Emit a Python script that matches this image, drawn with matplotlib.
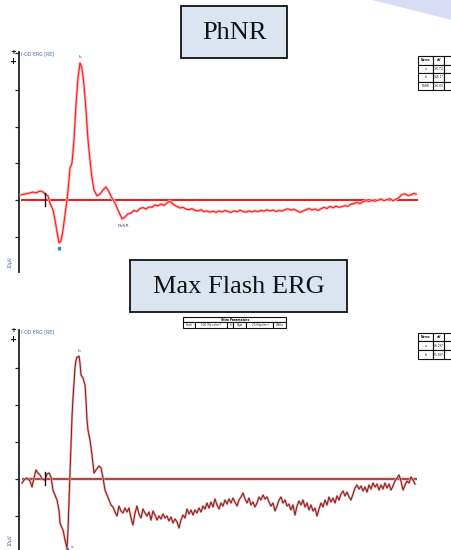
import matplotlib
matplotlib.use("Agg")
import matplotlib.pyplot as plt
from matplotlib.patches import Rectangle, Polygon

# ---------------- data ----------------
# PhNR trace: time (ms) and amplitude (uV)
phnr_t = [-23, -19, -14, -11, -8, -4, -1, 1, 4, 6, 9, 11, 13, 15, 17, 19, 21, 23, 25, 26, 28, 30, 32, 34,
          36, 38, 40, 42, 44, 46, 48, 50, 53, 56, 59, 62, 65, 68, 71, 74, 78, 81, 84, 87, 90, 93, 96,
          99, 102, 105, 108, 111, 114, 117, 120, 123, 126, 129, 132, 136, 139, 142, 145, 148, 151, 154,
          157, 160, 163, 166, 169, 172, 175, 178, 181, 184, 187, 190, 193, 196, 199, 202, 205, 208, 211,
          214, 217, 220, 223, 226, 229, 232, 235, 238, 241, 244, 247, 250, 253, 256, 259, 262, 265, 268,
          271, 274, 277, 280, 283, 286, 289, 292, 295, 298, 301, 304, 307, 310, 313, 316, 319, 322, 325,
          328, 331, 334, 337, 340, 343, 346, 349, 352, 355, 358, 361, 364, 367, 370, 372]
phnr_v = [4.1, 4.9, 5.7, 6.5, 5.7, 7.4, 6.5, 4.9, 3.3, -2.5, -8.2, -16.3, -26.1, -35.1, -33.5, -24.5,
          -12.3, 0.0, 16.3, 26.1, 30.2, 49.0, 77.6, 99.7, 112.0, 108.0, 94.0, 73.5, 49.0, 32.7, 18.0, 8.2,
          3.3, 4.9, 8.2, 10.6, 6.5, 1.6, -2.5, -8.2, -15.5, -13.9, -11.5, -10.6, -8.6, -9.4, -7.0,
          -6.2, -7.4, -5.7, -6.0, -4.1, -4.9, -3.3, -4.5, -2.5, -0.8, -3.3, -5.0, -6.5, -6.0, -7.5,
          -8.0, -7.0, -8.5, -9.0, -8.0, -9.5, -9.0, -10.0, -9.2, -10.1, -9.0, -9.8, -8.6, -9.5, -10.2,
          -9.0, -9.6, -8.4, -9.4, -10.0, -9.0, -9.8, -8.8, -9.6, -8.5, -9.2, -8.0, -9.0, -8.2, -9.4,
          -8.6, -9.0, -8.0, -7.2, -8.4, -7.6, -8.8, -10.2, -9.0, -8.0, -7.0, -8.2, -7.4, -8.6, -7.2,
          -6.0, -7.0, -5.2, -6.4, -5.0, -6.0, -5.4, -4.6, -5.2, -3.4, -3.0, -2.0, -3.0, -1.4, -0.6,
          -1.2, -0.4, -1.0, -0.2, 0.8, -0.6, 0.4, 1.0, -0.6, 0.6, 2.0, 4.5, 5.0, 3.6, 4.2, 5.4, 4.8]

# Max flash trace
maxf_t = [-22, -20, -17, -14, -12, -10, -8, -6, -4, -2, 1, 3, 5, 7, 9, 11, 13, 15, 16, 18, 19, 21, 23,
          24, 25, 26, 27, 28, 29, 30, 31, 32, 33, 34, 35, 36, 37, 39, 41, 42, 43, 44, 46, 48, 50, 52,
          55, 57, 59, 61, 63, 65, 67, 69, 71, 73, 75, 77, 79, 81, 83, 85, 87, 89, 91, 93, 95, 97, 99,
          101, 103, 105, 107, 109, 111, 113, 115, 117, 119, 121, 123, 125, 127, 129, 131, 133, 135,
          137, 139, 141, 143, 145, 147, 149, 151, 153, 155, 157, 159, 161, 163, 165, 167, 169, 171,
          173, 175, 177, 179, 181, 183, 185, 187, 189, 191, 193, 195, 197, 199, 201, 203, 205, 207,
          209, 211, 213, 215, 217, 219, 221, 223, 225, 227, 229, 231, 233, 235, 237, 239, 241, 243,
          245, 247, 249, 251, 253, 255, 257, 259, 261, 263, 265, 267, 269, 271, 273, 275, 277, 279,
          281, 283, 285, 287, 289, 291, 293, 295, 297, 299, 301, 303, 305, 307, 309, 311, 313, 315,
          317, 319, 321, 323, 325, 327, 329, 331, 333, 335, 337, 339, 341, 343, 345, 347, 349, 351,
          353, 355, 357, 359, 361, 363, 365, 367, 369, 371]
maxf_v = [-5.4, -1.4, 1.4, -2.7, -10.8, 1.4, 12.2, 8.1, 5.4, 0.0, -1.4, 6.8, 8.1, 2.7, -14.9, -21.6,
          -28.4, -41.9, -59.4, -66.2, -68.9, -82.4, -93.2, -68.9, -28.4, 8.1, 45.9, 83.8, 109.4, 129.7,
          150.0, 160.8, 164.8, 164.8, 166.0, 156.7, 140.5, 136.4, 127.0, 106.7, 79.7, 66.2, 52.7, 32.4,
          8.1, 12.2, 17.6, 14.9, 1.4, -14.9, -21.6, -28.4, -35.1, -37.8, -44.6, -50.0, -36.5, -43.2,
          -45.9, -39.2, -44.6, -39.2, -52.7, -62.1, -45.9, -36.5, -47.3, -52.7, -40.5, -45.9, -50.0,
          -44.6, -55.4, -43.2, -48.6, -55.4, -50.0, -54.0, -47.3, -52.7, -50.0, -56.7, -51.3, -59.4,
          -54.0, -58.0, -66.2, -55.4, -48.6, -52.7, -40.5, -47.3, -41.9, -48.6, -41.9, -45.9, -39.2,
          -44.6, -36.5, -40.5, -32.4, -39.2, -31.1, -37.8, -27.0, -35.1, -40.5, -32.4, -36.5, -28.4,
          -33.8, -27.0, -32.4, -25.7, -31.1, -36.5, -28.4, -24.3, -18.9, -27.0, -32.4, -25.7, -35.1,
          -31.1, -37.8, -32.4, -24.3, -28.4, -21.6, -27.0, -24.3, -31.1, -36.5, -32.4, -43.2, -36.5,
          -28.4, -24.3, -32.4, -28.4, -36.5, -33.8, -41.9, -35.1, -48.6, -36.5, -29.7, -35.1, -28.4,
          -37.8, -32.4, -41.9, -35.1, -43.2, -39.2, -50.0, -40.5, -32.4, -37.8, -28.4, -35.1, -24.3,
          -31.1, -25.7, -32.4, -22.9, -28.4, -20.3, -16.2, -22.9, -17.6, -24.3, -28.4, -20.3, -12.2,
          -8.1, -13.5, -9.5, -16.2, -10.8, -17.6, -8.1, -13.5, -5.4, -10.8, -6.8, -14.9, -8.1, -13.5,
          -5.4, -12.2, -6.8, -14.9, -9.5, -2.7, 1.4, 5.4, -2.7, -14.9, -8.1, -2.7, -5.4, 2.7, -1.4,
          -6.8]

phnr_markers = {"a": (15, -35.1), "b": (36, 112.0), "PhNR": (78, -15.5)}
maxf_markers = {"a": (23, -93.2), "b": (35, 166.0)}

phnr_table = [["Name", "uV", ""], ["a", "-36.73", ""], ["b", "146.1*", ""], ["PhNR", "-16.03", ""]]
maxf_table = [["Name", "uV", ""], ["a", "-16.26*", ""], ["b", "51.80*", ""]]
stim_header = "Stim Parameters"
stim_row = ["Flash", "100 (Pp.cs/m\u00b2)", "6", "Hgst", "20 (Hpu/m\u00b2)", "White"]

# ---------------- figure ----------------
W, H = 452, 550
fig = plt.figure(figsize=(W / 100, H / 100), dpi=100)
fig.patch.set_facecolor("white")

# overlay axes in pixel coordinates for decoration
deco = fig.add_axes([0, 0, 1, 1], zorder=0)
deco.set_xlim(0, W)
deco.set_ylim(H, 0)
deco.axis("off")
deco.add_patch(Polygon([(372, 0), (452, 0), (452, 20)], closed=True,
                       facecolor="#d8ddf5", edgecolor="none"))


def px_axes(left, top, right, bottom, z=1):
    return fig.add_axes([left / W, 1 - bottom / H, (right - left) / W, (bottom - top) / H], zorder=z)


def draw_panel(ax, t, v, xlim, ylim, yticks, halo, line, base_color, base_lw, markers, label_offsets,
               halo_lw, line_lw):
    ax.set_xlim(*xlim)
    ax.set_ylim(*ylim)
    ax.patch.set_alpha(0)
    for s in ["top", "right", "bottom"]:
        ax.spines[s].set_visible(False)
    ax.spines["left"].set_linewidth(1.3)
    ax.spines["left"].set_color("#222222")
    ax.set_xticks([])
    ax.set_yticks(yticks)
    ax.set_yticklabels([])
    ax.tick_params(axis="y", direction="out", length=3, width=0.9, color="#222222")
    ax.plot([t[0], t[-1] + 2], [0, 0], color=base_color, lw=base_lw, zorder=2, solid_capstyle="butt")
    ax.plot(t, v, color=halo, lw=halo_lw, zorder=3, solid_joinstyle="round")
    ax.plot(t, v, color=line, lw=line_lw, zorder=4, solid_joinstyle="round")
    # flash marker
    ax.plot([1, 1], [ylim[1] * 0.04 * -1, ylim[1] * 0.045], color="#111111", lw=1.0, zorder=5)
    for name, (mt, mv) in markers.items():
        dx, dy = label_offsets[name]
        ax.annotate(name, (mt, mv), xytext=(dx, dy), textcoords="offset points",
                    ha="center", va="center", fontsize=3.2, color="#4a5a80", zorder=6)


ax1 = px_axes(19, 52, 420, 272, z=2)
draw_panel(ax1, phnr_t, phnr_v, (-25, 376), (-58.9, 121.0), [-30, 0, 30, 60, 90, 120],
           "#ffb8b8", "#ff1a1a", "#ff0000", 1.3, phnr_markers,
           {"a": (0, -5), "b": (0, 4), "PhNR": (1, -5)}, 2.0, 0.8)
mt, mv = phnr_markers["a"]
ax1.plot([mt], [mv - 4.5], marker="o", ms=1.6, color="#3a80c0", zorder=7)

ax2 = px_axes(19, 330, 420, 550, z=2)
draw_panel(ax2, maxf_t, maxf_v, (-25, 376), (-95.9, 201.3), [-50, 0, 50, 100, 150],
           "#e2b0b0", "#8c1414", "#b04848", 1.7, maxf_markers,
           {"a": (4, 0.5), "b": (0, 4)}, 1.7, 0.7)
mt, mv = maxf_markers["a"]
ax2.plot([mt], [mv - 1.5], marker="o", ms=1.5, color="#3a80c0", zorder=7, clip_on=False)

# axis captions
for ytop, ybot in [(52, 268), (330, 546)]:
    deco.text(21, ytop + 2, "I-OD ERG [RE]", fontsize=3.3, color="#3a66a8", va="center", ha="left")
    deco.text(13, ytop + 0.5, "+", fontsize=5, color="#111111", ha="center", va="center", fontweight="bold")
    deco.text(13, ytop + 9, "+", fontsize=6, color="#111111", ha="center", va="center", fontweight="bold")
    deco.text(10, ybot - 6, "10\u00b5V", fontsize=3.3, color="#4a6a9a", rotation=90, ha="center", va="center")

# title boxes
for (x0, y0, x1, y1, txt) in [(181, 6, 287, 58, "PhNR"), (130, 260, 347, 312, "Max Flash ERG")]:
    deco.add_patch(Rectangle((x0, y0), x1 - x0, y1 - y0, facecolor="#dbe5f1",
                             edgecolor="#111111", lw=1.3, zorder=10))
    deco.text((x0 + x1) / 2, (y0 + y1) / 2 + 1, txt, fontsize=19, family="Liberation Serif",
              ha="center", va="center", color="#111111", zorder=11)
deco.set_zorder(5)


def draw_table(x0, y0, col_w, row_h, rows):
    for r, row in enumerate(rows):
        x = x0
        for c, cell in enumerate(row):
            deco.add_patch(Rectangle((x, y0 + r * row_h), col_w[c], row_h, facecolor="white",
                                     edgecolor="#111111", lw=0.8, zorder=12))
            if cell:
                deco.text(x + col_w[c] / 2, y0 + (r + 0.5) * row_h, cell, fontsize=2.2,
                          ha="center", va="center", zorder=13,
                          fontweight="bold" if r == 0 else "normal", color="#202040")
            x += col_w[c]


draw_table(418.5, 56, [15, 11, 12], 8.6, phnr_table)
draw_table(418.5, 332.5, [15, 11, 12], 8.8, maxf_table)

# stim parameters table
deco.add_patch(Rectangle((183.5, 317), 103, 5.2, facecolor="white", edgecolor="#111111", lw=0.8, zorder=12))
deco.text(235, 319.6, stim_header, fontsize=2.2, ha="center", va="center", fontweight="bold", zorder=13)
sw = [12, 32, 6, 13, 27, 13]
x = 183.5
for c, cell in enumerate(stim_row):
    deco.add_patch(Rectangle((x, 322.2), sw[c], 5.6, facecolor="white", edgecolor="#111111", lw=0.8, zorder=12))
    deco.text(x + sw[c] / 2, 325, cell, fontsize=2.0, ha="center", va="center", zorder=13, color="#202040")
    x += sw[c]

fig.savefig("out.png", dpi=100, facecolor="white")
